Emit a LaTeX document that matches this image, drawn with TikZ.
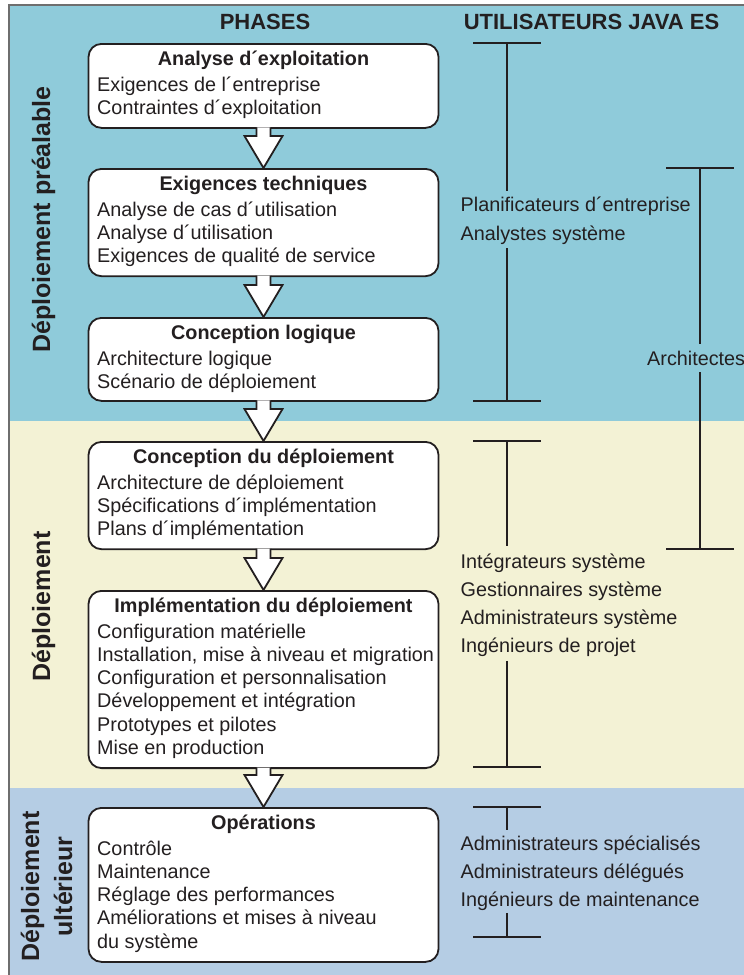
\documentclass[tikz,border=0pt]{standalone}
\usepackage{fontspec}
\setmainfont{Liberation Sans}
\usetikzlibrary{calc}

\definecolor{bandA}{HTML}{8FCBDA}
\definecolor{bandB}{HTML}{F3F2D5}
\definecolor{bandC}{HTML}{B5CDE4}
\definecolor{ink}{HTML}{231F20}
\definecolor{frame}{HTML}{6E6E6E}

% one phase: name, top, height, title, list of lines
\newcommand\PhaseStage[5]{%
  \node[phasebox, minimum height=#3pt] (#1) at (263.5,#2) {};
  \node[ptitle] (#1-t) at (263.5,{#2+22}) {#4};
  \foreach \txt [count=\k] in {#5}
    \node[pline] (#1-\k) at (97,{#2+48+23.3*(\k-1)}) {\txt};
}

\begin{document}
\begin{tikzpicture}[x=1pt,y=-1pt,
  phasebox/.style={draw=ink, fill=white, line width=1.8pt, rounded corners=13pt,
    minimum width=350pt, inner sep=0pt, anchor=north},
  ptitle/.style={font=\fontsize{19.8}{23}\selectfont\bfseries, text=ink, inner sep=0pt, anchor=base},
  pline/.style={font=\fontsize{19.8}{23}\selectfont, text=ink, inner sep=0pt, anchor=base west},
  uline/.style={font=\fontsize{19.8}{23}\selectfont, text=ink, inner sep=0pt, anchor=base west},
  hdr/.style={font=\fontsize{22}{24}\selectfont\bfseries, text=ink, inner sep=0pt, anchor=base},
  sidelabel/.style={font=\fontsize{25}{28}\selectfont\bfseries, text=ink, inner sep=0pt, anchor=base, rotate=90},
  tbar/.style={draw=ink, line width=1.9pt},
  blockarrow/.style={draw=ink, fill=white, line width=1.8pt, line join=miter}
]
\useasboundingbox (0,0) rectangle (744,975);
\fill[white] (0,0) rectangle (744,975);

% background bands
\fill[bandA] (9,5) rectangle (744,421);
\fill[bandB] (9,421) rectangle (744,788);
\fill[bandC] (9,788) rectangle (744,975);
\draw[frame, line width=1.2pt] (9,975) -- (9,5) -- (744,5);

% column headers
\node[hdr] (hphases) at (265,29.3) {PHASES};
\node[hdr] (husers) at (591.5,29.3) {UTILISATEURS JAVA ES};

% side labels
\node[sidelabel] (sideA) at (50,219.5) {Déploiement préalable};
\node[sidelabel] (sideB) at (50,606.5) {Déploiement};
\node[sidelabel] (sideC1) at (39,886.5) {Déploiement};
\node[sidelabel] (sideC2) at (72,886.5) {ultérieur};

% phases
\PhaseStage{ph1}{43}{84}{Analyse d´exploitation}%
  {Exigences de l´entreprise, Contraintes d´exploitation}
\PhaseStage{ph2}{168}{107.3}{Exigences techniques}%
  {Analyse de cas d´utilisation, Analyse d´utilisation, Exigences de qualité de service}
\PhaseStage{ph3}{317}{83}{Conception logique}%
  {Architecture logique, Scénario de déploiement}
\PhaseStage{ph4}{441}{107.3}{Conception du déploiement}%
  {Architecture de déploiement, Spécifications d´implémentation, Plans d´implémentation}
\PhaseStage{ph5}{590}{177.2}{Implémentation du déploiement}%
  {Configuration matérielle, {Installation, mise à niveau et migration},
   Configuration et personnalisation, Développement et intégration,
   Prototypes et pilotes, Mise en production}
\PhaseStage{ph6}{807}{154}{Opérations}%
  {Contrôle, Maintenance, Réglage des performances,
   Améliorations et mises à niveau, du système}

% hollow arrows between phases
\foreach \a/\b in {ph1/ph2, ph2/ph3, ph3/ph4, ph4/ph5, ph5/ph6}{
  \draw[blockarrow] ($(\a.south)+(-7,-1.5)$) -- ($(\b.north)+(-7,-32)$) -- ++(-12,0)
    -- (\b.north) -- ($(\b.north)+(19,-32)$) -- ++(-12,0) -- ($(\a.south)+(7,-1.5)$);
}

% user groups
\foreach \txt [count=\k] in {Planificateurs d´entreprise, Analystes système}
  \node[uline] (ua-\k) at (460.5,{211.7+28.3*(\k-1)}) {\txt};
\node[uline] (uarch) at (647,365) {Architectes};
\foreach \txt [count=\k] in {Intégrateurs système, Gestionnaires système,
    Administrateurs système, Ingénieurs de projet}
  \node[uline] (uc-\k) at (460.5,{568.5+28*(\k-1)}) {\txt};
\foreach \txt [count=\k] in {Administrateurs spécialisés, Administrateurs délégués,
    Ingénieurs de maintenance}
  \node[uline] (ud-\k) at (460.5,{850+28.3*(\k-1)}) {\txt};

% range bars
\coordinate (ra-top) at (507,43);  \coordinate (ra-bot) at (507,401);
\coordinate (rb-top) at (700,168); \coordinate (rb-bot) at (700,549);
\coordinate (rc-top) at (507,441); \coordinate (rc-bot) at (507,767);
\coordinate (rd-top) at (507,807); \coordinate (rd-bot) at (507,937);

\foreach \r in {ra,rb,rc,rd}{
  \draw[tbar] ($(\r-top)+(-34,0)$) -- ($(\r-top)+(34,0)$);
  \draw[tbar] ($(\r-bot)+(-34,0)$) -- ($(\r-bot)+(34,0)$);
}
\draw[tbar] (ra-top) -- ($(ua-1.north -| ra-top)+(0,-6)$);
\draw[tbar] ($(ua-2.south -| ra-top)+(0,4)$) -- (ra-bot);
\draw[tbar] (rb-top) -- ($(uarch.north -| rb-top)+(0,-6)$);
\draw[tbar] ($(uarch.south -| rb-top)+(0,7)$) -- (rb-bot);
\draw[tbar] (rc-top) -- ($(uc-1.north -| rc-top)+(0,-8)$);
\draw[tbar] ($(uc-4.south -| rc-top)+(0,4)$) -- (rc-bot);
\draw[tbar] (rd-top) -- ($(ud-1.north -| rd-top)+(0,-5)$);
\draw[tbar] ($(ud-3.south -| rd-top)+(0,2)$) -- (rd-bot);
\end{tikzpicture}
\end{document}
